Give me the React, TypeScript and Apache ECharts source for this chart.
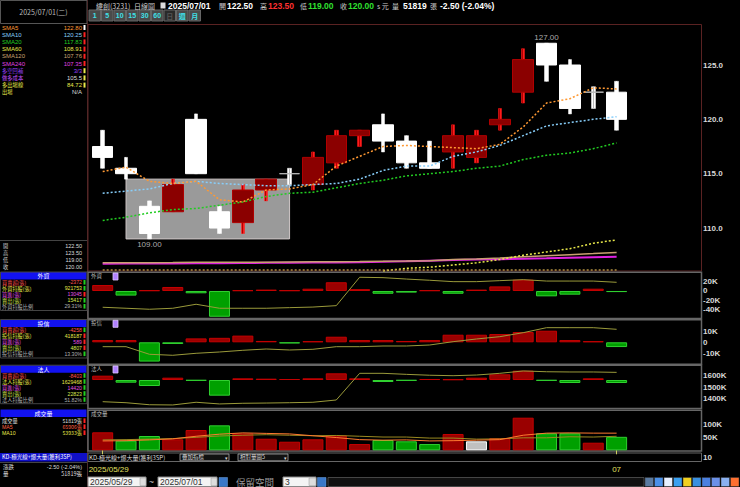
import React, { useEffect, useRef } from 'react';
import * as echarts from 'echarts';

// ---------- data ----------
const dates = ['2025/05/29','2025/06/02','2025/06/03','2025/06/04','2025/06/05','2025/06/06','2025/06/09','2025/06/10','2025/06/11','2025/06/12','2025/06/13','2025/06/16','2025/06/17','2025/06/18','2025/06/19','2025/06/20','2025/06/23','2025/06/24','2025/06/25','2025/06/26','2025/06/27','2025/06/30','2025/07/01'];
const opens  = [117.5,115.5,112.0,111.5,120.0,111.5,110.5,113.5,115.0,114.0,116.0,118.5,119.5,118.0,116.0,117.0,116.5,119.5,122.5,127.0,125.0,122.5,122.5];
const closes = [116.5,115.0,109.5,114.0,115.0,110.0,113.5,114.5,115.0,116.5,118.5,119.0,118.0,116.0,115.5,118.5,118.5,120.0,125.5,125.0,121.0,122.5,120.0];
const lows   = [115.5,114.5,109.0,111.5,115.0,109.5,109.5,112.5,114.0,113.5,115.5,117.5,117.0,115.5,115.5,115.5,116.0,119.0,121.5,123.5,120.5,121.0,119.0];
const highs  = [119.0,116.5,112.5,114.5,120.5,112.0,114.0,114.5,115.5,117.0,119.0,119.0,120.5,118.5,118.0,119.5,119.0,121.0,126.5,127.0,125.5,123.0,123.5];

const sma5   = [115.2,115.6,114.3,114.1,114.3,112.6,112.4,113.5,113.6,114.0,115.7,116.6,117.5,117.6,117.5,117.4,117.3,117.7,119.3,121.5,121.9,122.9,122.8];
const sma10  = [113.2,113.4,113.6,114.1,114.3,114.1,114.0,113.9,113.9,114.0,114.1,114.5,115.3,115.7,115.7,116.6,117.0,117.6,118.5,119.4,119.7,120.0,120.25];
const sma20  = [110.7,111.0,111.4,111.7,111.8,112.1,112.4,112.9,113.2,113.3,113.7,114.1,114.4,114.8,115.0,115.2,115.5,115.7,116.3,116.7,116.9,117.3,117.83];
const sma60  = [null,null,null,null,null,null,null,null,null,null,null,null,106.05,106.3,106.4,106.6,106.8,107.1,107.5,107.8,108.1,108.6,108.91];
const sma120 = [106.8,106.8,106.8,106.82,106.85,106.85,106.86,106.86,106.88,106.9,106.9,106.92,106.95,106.97,107.0,107.1,107.16,107.25,107.35,107.45,107.55,107.65,107.76];
const sma240 = [106.72,106.73,106.74,106.75,106.76,106.77,106.78,106.8,106.81,106.82,106.84,106.86,106.9,106.95,107.0,107.05,107.1,107.14,107.18,107.22,107.27,107.31,107.35];
const bottomLine = 106.12;
const boxRange = [[1, 114.5, 8, 109.0]];
const peakMarks = [[19, 127.0, 'top'], [2, 109.0, 'bottom']];

const foreignNet  = [13000,-10000,1500,8700,-5000,-56000,1500,3000,1500,5000,19000,4000,-6000,-3500,1500,-6000,3000,10000,24600,-11600,-8000,5000,-2372];
const foreignHold = [896800,895800,894800,895800,899800,895800,895800,895800,896400,897000,898400,926800,926400,925000,923800,922400,922400,923400,924400,923000,923000,923000,921753];
const trustNet    = [2000,2000,-17300,-1500,3500,4000,6000,1200,-1000,1000,5000,2000,2000,1200,2000,6800,6800,7400,9200,10400,2000,1000,-4258];
const trustHold   = [400800,400800,393200,392200,394200,395500,397200,398500,397500,398200,400800,400800,401500,401500,402500,405800,408500,410800,414800,419800,419800,419800,418187];
const instNet     = [12100,-7500,-16800,6500,-1900,-43900,4700,3700,2800,4700,18700,4700,-5600,-1900,2800,1900,6500,15900,26100,-1900,-8400,4700,-8403];
const instHold    = [1370000,1361000,1343000,1341000,1365000,1350000,1356000,1358000,1361000,1365000,1385000,1621000,1621000,1612000,1604000,1600000,1606000,1621000,1642000,1635000,1633000,1633000,1629468];
const volume      = [69200,37000,55000,42300,78000,96000,65000,44600,33000,42300,57700,24000,39600,34600,24000,62700,34600,47300,125400,65400,65400,29200,51819];
const volumeColor = ['r','g','g','r','r','g','r','r','r','r','r','r','g','g','g','r','w','r','r','g','g','r','g'];
const volMa5      = [36000,37000,40000,44000,54000,62000,67000,65000,63000,56000,49000,41000,39000,40000,36000,37000,39000,41000,58000,66000,67000,66000,65906];
const volMa10     = [40000,41000,43000,45000,50000,55000,58000,60000,58000,56000,57000,54000,51000,51000,47000,47000,43000,44000,48000,48000,52000,51000,53933];

const priceTicks = [110, 115, 120, 125];
const foreignTicks = [20000, 0, -20000, -40000];
const trustTicks = [10000, 0, -10000];
const instTicks = [1400000, 1500000, 1600000];
const volTicks = [50000, 100000];

// left info panel texts
const maLabels = ['SMA5','SMA10','SMA20','SMA60','SMA120','SMA240','多空回補','做多成本','多出場線','出場'];
const maValues = ['122.80','120.25','117.83','108.91','107.76','107.35','3/3','105.5','84.72','N/A'];
const maColors = ['#ff9933','#87cefa','#22cc22','#e8e84a','#c8a070','#e040e0','#9a40ff','#c050ff','#e8e84a','#e8e84a'];
const ohlcLabels = ['開','高','低','收'];
const ohlcValues = ['122.50','123.50','119.00','120.00'];
const foreignLabels = ['買賣超(張)','外資持股(張)','買進(張)','賣出(張)','外資持股比例'];
const foreignValues = ['-2372','921753','13045','15417','29.31%'];
const trustLabels = ['買賣超(張)','投信持股(張)','買進(張)','賣出(張)','投信持股比例'];
const trustValues = ['-4258','418187','589','4807','13.30%'];
const instLabels = ['買賣超(張)','法人持股(張)','買進(張)','賣出(張)','法人持股比例'];
const instValues = ['-8403','1629468','14420','22823','51.82%'];
const blockColors = ['#ff5050','#e8e84a','#e050e0','#d8e850','#b0b0b0'];
const volLabels = ['成交量','MA5','MA10'];
const volValues = ['51819張','65906張','53933張'];
const volColors = ['#e0e0e0','#ff6040','#e8e84a'];
const periodButtons = ['1','5','10','15','30','60','日','週','月'];

const FONT = '"Liberation Sans", "Noto Sans CJK TC", sans-serif';
const CJK = '"Noto Sans CJK TC", "Liberation Sans", sans-serif';

const GL = 91, GW = 537.3;

function buildGraphics() {
  const g: any[] = [];
  const txt = (x: number, y: number, text: string, fill: string, size = 7, align = 'left', bold = false, font = CJK, z = 10) => {
    g.push({ type: 'text', x, y, z, silent: true, style: { text, fill, font: `${bold ? 'bold ' : ''}${size}px ${font}`, textAlign: align, textVerticalAlign: 'middle', align, verticalAlign: 'middle', lineHeight: size } });
  };
  const rect = (x: number, y: number, w: number, h: number, fill: string, stroke?: string, lw = 1, z = 0) => {
    g.push({ type: 'rect', z, silent: true, shape: { x, y, width: w, height: h }, style: { fill, stroke: stroke || null, lineWidth: lw } });
  };
  const line = (x1: number, y1: number, x2: number, y2: number, stroke: string, lw = 1, z = 0) => {
    g.push({ type: 'line', z, silent: true, shape: { x1, y1, x2, y2 }, style: { stroke, lineWidth: lw } });
  };

  // ---- top bar ----
  rect(0.5, 0.5, 86.5, 23, 'none', '#555555');
  txt(43.5, 12, '2025/07/01(二)', '#bbbbbb', 7, 'center');
  const top: [string, number, string, boolean][] = [
    ['緯創(3231)', 96, '#cccccc', false], ['日線圖', 134, '#cccccc', false],
    ['2025/07/01', 168, '#ffffff', true], ['開', 219, '#cccccc', false], ['122.50', 227, '#ffffff', true],
    ['高', 260, '#cccccc', false], ['123.50', 268, '#ff3030', true], ['低', 300, '#cccccc', false],
    ['119.00', 308, '#30e030', true], ['收', 340, '#cccccc', false], ['120.00', 348, '#30e030', true],
    ['s 元', 377, '#cccccc', false], ['量', 392, '#cccccc', false], ['51819', 403, '#ffffff', true],
    ['張', 430, '#cccccc', false], ['-2.50 (-2.04%)', 440, '#ffffff', true],
  ];
  top.forEach(([t, x, c, b]) => txt(x, 6, t, c, b ? 8.5 : 7, 'left', b, b ? FONT : CJK));
  rect(160.5, 2.5, 5, 6, '#dddddd');
  periodButtons.forEach((b, i) => {
    const x = 89 + i * 12.5;
    const sel = b === '日';
    rect(x, 10, 11.5, 11, sel ? '#2a2a2a' : '#4a4a4a', '#666666');
    txt(x + 5.75, 15.5, b, sel ? '#555555' : '#40e0e8', 7, 'center', true, /\d/.test(b) ? FONT : CJK);
  });

  // ---- left panel ----
  line(87.5, 0, 87.5, 487, '#4a2a2a', 1);
  maLabels.forEach((l, i) => {
    const y = 27.5 + i * 7.2;
    txt(2, y, l, maColors[i], i < 6 ? 6 : 5.3, 'left', false, i < 6 ? FONT : CJK);
    txt(82, y, maValues[i], i === 7 || i === 9 ? '#dddddd' : maColors[i], 6, 'right', false, FONT);
    if (i < 9) rect(83.5, y - 2.5, 2, 5, i === 0 ? '#ffffff' : (i < 6 ? '#ff2020' : '#e8e84a'), undefined, 1, 10);
  });
  line(0, 240.5, 87, 240.5, '#444444');
  ohlcLabels.forEach((l, i) => {
    const y = 245.5 + i * 7;
    txt(3, y, l, '#cccccc', 5.2);
    txt(82, y, ohlcValues[i], '#dddddd', 5.5, 'right', false, FONT);
  });
  const block = (title: string, top: number, labels: string[], values: string[], marks: string[]) => {
    rect(0.5, top, 86, 7.5, '#1212f0', undefined, 1, 5);
    txt(43.5, top + 3.9, title, '#ffffff', 6, 'center');
    labels.forEach((l, i) => {
      const y = top + 10.3 + i * 6;
      txt(2, y, l, blockColors[i], 5.2, 'left');
      txt(82, y, values[i], blockColors[i], 5.2, 'right', false, FONT);
      rect(83.5, y - 2.3, 2, 4.6, marks[i], undefined, 1, 10);
    });
    rect(0.5, top, 86.5, labels.length * 6 + 8.5, 'none', '#444444', 1, 5);
  };
  block('外資', 272, foreignLabels, foreignValues, ['#20d020','#20d020','#ff2020','#20d020','#20d020']);
  block('投信', 319.5, trustLabels, trustValues, ['#20d020','#ff2020','#ff2020','#ff2020','#20d020']);
  block('法人', 365.2, instLabels, instValues, ['#20d020','#20d020','#20d020','#20d020','#20d020']);
  rect(0.5, 409.5, 86, 7.5, '#1212f0', undefined, 1, 5);
  txt(43.5, 413.3, '成交量', '#ffffff', 6, 'center');
  volLabels.forEach((l, i) => {
    const y = 420.7 + i * 6;
    txt(2, y, l, volColors[i], 5.2, 'left', false, i === 0 ? CJK : FONT);
    txt(82, y, volValues[i], volColors[i], 5.2, 'right');
    rect(83.5, y - 2.3, 2, 4.6, '#ff2020', undefined, 1, 10);
  });
  rect(0, 453, 87, 8.5, '#1010c8', undefined, 1, 5);
  txt(2, 457.3, 'KD-極光線+爆大量(獲利3SP)', '#ffffff', 5.5);
  line(0, 462.5, 87, 462.5, '#444444');
  txt(3, 467, '漲跌', '#dddddd', 5.5);
  txt(82, 467, '-2.50 (-2.04%)', '#dddddd', 5.5, 'right', false, FONT);
  txt(3, 473.5, '量', '#dddddd', 5.5);
  txt(82, 473.5, '51819張', '#dddddd', 5.5, 'right');

  // ---- panel frames ----
  rect(88, 24.5, 613.5, 246.5, 'none', '#5a2222', 1);
  rect(88, 272.2, 613.5, 46.3, 'none', '#666666', 1.5);
  rect(88, 319.8, 613.5, 44.4, 'none', '#666666', 1.5);
  rect(88, 365.2, 613.5, 43.3, 'none', '#666666', 1.5);
  rect(88, 410.2, 613.5, 40.8, 'none', '#666666', 1.5);
  // panel labels
  txt(91, 276, '外資', '#bbbbbb', 5.5);
  txt(91, 323.3, '投信', '#bbbbbb', 5.5);
  txt(91, 369.3, '法人', '#bbbbbb', 5.5);
  txt(91, 414, '成交量', '#bbbbbb', 5.5);
  [273, 320.3, 366].forEach((y) => rect(113, y, 5, 7, '#b080ff', '#e0c8ff', 0.8, 10));

  // ---- KD row ----
  rect(88, 453, 613.5, 8.5, '#000000', '#666666', 1);
  txt(89, 457.3, 'KD-極光線+爆大量(獲利3SP)', '#dddddd', 6);
  rect(180, 454, 49, 6.8, '#111111', '#aaaaaa', 0.8, 5);
  txt(182, 457.4, '疊加指標', '#dddddd', 5.5);
  txt(226, 457.4, '▾', '#dddddd', 5, 'center');
  rect(238, 454, 50, 6.8, '#111111', '#aaaaaa', 0.8, 5);
  txt(240, 457.4, '相對量圖5', '#dddddd', 5.5);
  txt(285, 457.4, '▾', '#dddddd', 5, 'center');
  txt(703, 457.7, '10', '#d8d8d8', 8, 'left', true, FONT);

  // ---- bottom controls ----
  rect(88, 477, 58, 9.5, '#f4f4f4', '#888888');
  txt(90, 481.8, '2025/05/29', '#333333', 8.5, 'left', false, FONT);
  rect(140, 478, 6, 7.5, '#dddddd', '#999999', 0.5, 5);
  txt(151.5, 481.5, '~', '#cccccc', 8.5, 'center', false, FONT);
  rect(158, 477, 59, 9.5, '#f4f4f4', '#888888');
  txt(160, 481.8, '2025/07/01', '#333333', 8.5, 'left', false, FONT);
  rect(211, 478, 6, 7.5, '#dddddd', '#999999', 0.5, 5);
  rect(219, 477.5, 8.5, 9, '#3a78c8', '#6aa0e0', 0.5);
  txt(236, 481.5, '保留空間', '#999999', 9.5);
  rect(283, 477, 33, 9.5, '#f4f4f4', '#888888');
  txt(285, 481.8, '3', '#333333', 8.5, 'left', false, FONT);
  rect(309, 478, 7, 7.5, '#dddddd', '#999999', 0.5, 5);
  rect(317.5, 477.5, 8.5, 9, '#3a78c8', '#6aa0e0', 0.5);
  rect(328, 477.5, 316, 9, '#101010', '#555555', 0.8);
  ['#5a7aa0', '#4a90e8', '#e8f0ff', '#3aa0f0', '#f0d020', '#3a90e0', '#4a80e0', '#6a90e8', '#8ab0f0', '#ff7030'].forEach((c, i) => {
    rect(645 + i * 9.5, 477.5, 8.5, 9, c, '#333333', 0.5);
  });
  return g;
}

function kFmt(v: number) {
  return v === 0 ? '0' : `${Math.round(v / 1000)}K`;
}

function buildOption() {
  const red = '#9a0000', redB = '#c40000', green = '#00a000', greenB = '#30d030';
  const signBars = (vals: number[]) => vals.map((v) => ({ value: v, itemStyle: { color: v >= 0 ? red : green, borderColor: v >= 0 ? redB : greenB, borderWidth: 1 } }));
  const grids = [
    { top: 24, height: 247 },
    { top: 272.5, height: 46 },
    { top: 320, height: 44 },
    { top: 365, height: 43.5 },
    { top: 410.5, height: 39.8 },
  ].map((g) => ({ left: GL, width: GW, top: g.top, height: g.height, show: false }));

  const xAxes = grids.map((_, i) => {
    const base: any = { type: 'category', gridIndex: i, data: dates, boundaryGap: true };
    if (i !== 4) return { ...base, show: false };
    return {
      ...base, show: true, offset: 12,
      axisLine: { show: false }, splitLine: { show: false },
      axisTick: { show: true, alignWithLabel: true, length: 4, interval: (idx: number) => idx === 0 || idx === dates.length - 1, lineStyle: { color: '#d0d060' } },
      axisLabel: {
        interval: 0, color: '#e0e060', fontSize: 8, fontFamily: 'Liberation Sans', margin: 3,
        formatter: (v: string, idx: number) => idx === 0 ? `{d|${v}}` : idx === dates.length - 1 ? v.slice(5, 7) : '',
        rich: { d: { padding: [0, 0, 0, 12], color: '#e0e060', fontSize: 8, fontFamily: 'Liberation Sans' } },
      },
    };
  });

  const labelStyle = { color: '#d8d8d8', fontSize: 8, fontWeight: 'bold', fontFamily: 'Liberation Sans', margin: 74.7, align: 'left' };
  const visAxis = (grid: number, min: number, max: number, ticks: number[], fmt: (v: number) => string) => ({
    type: 'value', gridIndex: grid, min, max, position: 'right',
    axisLine: { show: false }, axisTick: { show: false }, splitLine: { show: false },
    axisLabel: { ...labelStyle, customValues: ticks, formatter: fmt },
  });
  const hidAxis = (grid: number, min: number, max: number) => ({ type: 'value', gridIndex: grid, min, max, show: false, splitLine: { show: false } });

  const yAxes = [
    visAxis(0, 106.049, 128.772, priceTicks, (v) => v.toFixed(1)),
    visAxis(1, -59783, 40217, foreignTicks, kFmt),
    hidAxis(1, 885553, 931553),
    visAxis(2, -19462, 20000, trustTicks, kFmt),
    hidAxis(2, 383487, 427487),
    visAxis(3, 1309735, 1694690, instTicks, kFmt),
    hidAxis(3, -79800, 42000),
    visAxis(4, 0, 153077, volTicks, kFmt),
  ];

  const maLine = (name: string, data: any[], color: string, dotted: boolean, width = 1.5, extra: any = {}) => ({
    name, type: 'line', xAxisIndex: 0, yAxisIndex: 0, data, showSymbol: false, symbol: 'none', z: 4, connectNulls: false,
    lineStyle: { color, width, type: dotted ? [2, 2] : 'solid' }, silent: true, ...extra,
  });
  const subLine = (x: number, y: number, data: number[], color = '#9a9a3a') => ({
    type: 'line', xAxisIndex: x, yAxisIndex: y, data, showSymbol: false, symbol: 'none', z: 4, silent: true,
    lineStyle: { color, width: 1 },
  });

  const volData = volume.map((v, i) => {
    const c = volumeColor[i];
    return { value: v, itemStyle: { color: c === 'r' ? red : c === 'g' ? green : '#c0c0c0', borderColor: c === 'r' ? redB : c === 'g' ? greenB : '#ffffff', borderWidth: 1 } };
  });

  const series: any[] = [
    {
      type: 'custom', xAxisIndex: 0, yAxisIndex: 0, z: 1, silent: true, data: boxRange,
      encode: { x: [0, 2], y: [1, 3] },
      renderItem: (_p: any, api: any) => {
        const p1 = api.coord([api.value(0), api.value(1)]);
        const p2 = api.coord([api.value(2), api.value(3)]);
        return { type: 'rect', shape: { x: p1[0], y: p1[1], width: p2[0] - p1[0], height: p2[1] - p1[1] }, style: { fill: '#9a9a9a', stroke: '#d0c8c8', lineWidth: 1 } };
      },
    },
    {
      type: 'candlestick', xAxisIndex: 0, yAxisIndex: 0, z: 2, barWidth: 4, silent: true,
      data: opens.map((o, i) => {
        const c = closes[i] > o ? '#ff1a1a' : '#ffffff';
        return { value: [lows[i], highs[i], lows[i], highs[i]], itemStyle: { color: c, borderColor: c, borderWidth: 0.5 } };
      }),
    },
    {
      type: 'candlestick', xAxisIndex: 0, yAxisIndex: 0, z: 3, barWidth: 21, silent: true,
      data: opens.map((o, i) => [o, closes[i], lows[i], highs[i]]),
      itemStyle: { color: '#8b0000', color0: '#ffffff', borderColor: '#b00000', borderColor0: '#ffffff', borderColorDoji: '#b8b8b8', borderWidth: 1 },
    },
    {
      type: 'scatter', xAxisIndex: 0, yAxisIndex: 0, z: 6, symbolSize: 1, silent: true,
      itemStyle: { color: 'rgba(0,0,0,0)' },
      data: peakMarks.map((m) => ({ value: [m[0], m[1]], label: { show: true, position: m[2], distance: 1, formatter: (m[1] as number).toFixed(2), color: '#d8d8d8', fontSize: 8, fontFamily: 'Liberation Sans' } })),
    },
    maLine('SMA240', sma240, '#e020e0', false, 2),
    maLine('SMA120', sma120, '#c8a070', false, 1.5, {
      markLine: { silent: true, symbol: 'none', label: { show: false }, lineStyle: { color: '#b09040', type: [2, 2], width: 1.5 }, data: [[{ coord: [0, bottomLine] }, { coord: [dates.length - 1, bottomLine] }]] },
    }),
    maLine('SMA60', sma60, '#e8e84a', true),
    maLine('SMA20', sma20, '#22cc22', true),
    maLine('SMA10', sma10, '#87cefa', true),
    maLine('SMA5', sma5, '#ff9933', true),

    { type: 'bar', xAxisIndex: 1, yAxisIndex: 1, barWidth: 21, data: signBars(foreignNet), silent: true, z: 2 },
    subLine(1, 2, foreignHold),
    { type: 'bar', xAxisIndex: 2, yAxisIndex: 3, barWidth: 21, data: signBars(trustNet), silent: true, z: 2 },
    subLine(2, 4, trustHold),
    { type: 'bar', xAxisIndex: 3, yAxisIndex: 6, barWidth: 21, data: signBars(instNet), silent: true, z: 2 },
    subLine(3, 5, instHold),
    { type: 'bar', xAxisIndex: 4, yAxisIndex: 7, barWidth: 21, data: volData, silent: true, z: 2 },
    subLine(4, 7, volMa10, '#9a8a20'),
    subLine(4, 7, volMa5, '#ff7a30'),
  ];

  return {
    animation: false,
    backgroundColor: '#000000',
    grid: grids,
    xAxis: xAxes,
    yAxis: yAxes,
    series,
    graphic: { elements: buildGraphics() },
  };
}

export default function App() {
  const ref = useRef<HTMLDivElement>(null);
  useEffect(() => {
    if (!ref.current) return;
    const chart = echarts.init(ref.current, null, { renderer: 'svg' });
    chart.setOption(buildOption() as any);
    return () => chart.dispose();
  }, []);
  return <div ref={ref} style={{ position: 'fixed', left: 0, top: 0, width: 740, height: 487, background: '#000' }} />;
}
